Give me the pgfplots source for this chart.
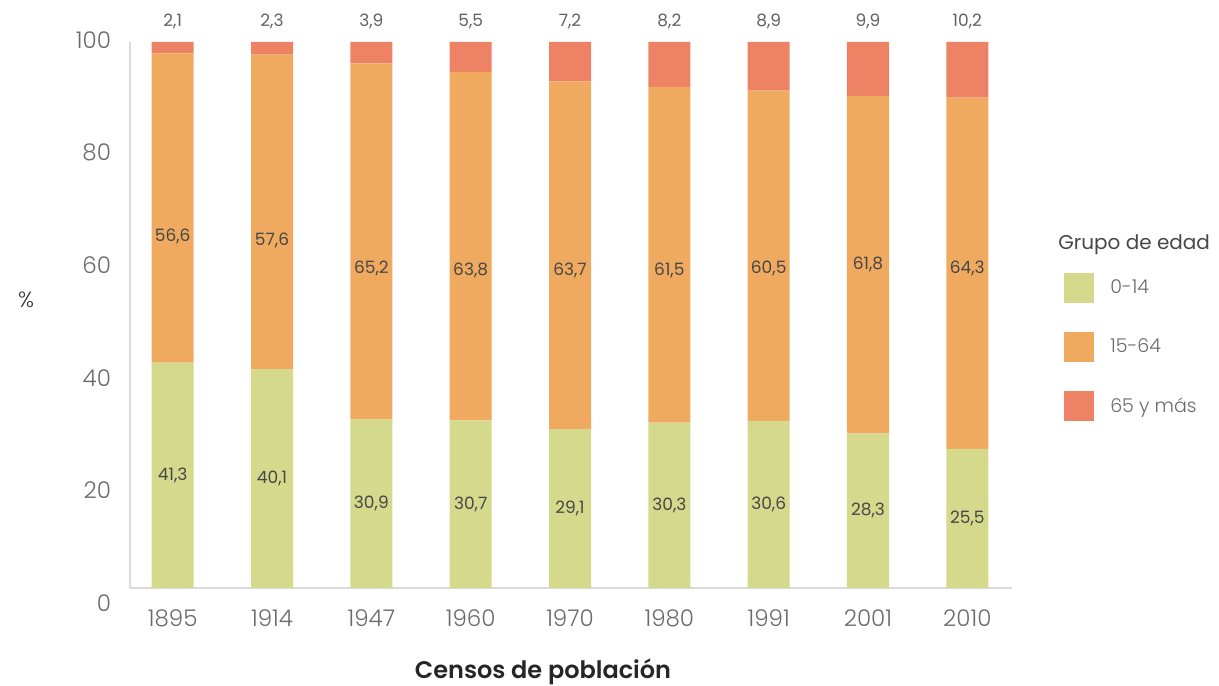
\documentclass[border=0pt]{standalone}
\usepackage{pgfplots}
\usepackage{pgfplotstable}
\pgfplotsset{compat=1.18}
\usepackage{fontspec}
\setmainfont{Poppins}[UprightFont=* Light, BoldFont=* SemiBold]
\newfontfamily\labfont{Poppins}

\definecolor{cgreen}{HTML}{D4D98B}
\definecolor{corange}{HTML}{F0AA60}
\definecolor{cred}{HTML}{EE8264}
\definecolor{ctick}{HTML}{6B6B6B}
\definecolor{cline}{HTML}{DADADA}

\pgfplotstableread{
x g o r gl ol rl oy
0 41.3 56.6 2.1 41,3 56,6 2,1 64.3
1 40.1 57.6 2.3 40,1 57,6 2,3 63.7
2 30.9 65.2 3.9 30,9 65,2 3,9 58.6
3 30.7 63.8 5.5 30,7 63,8 5,5 58.2
4 29.1 63.7 7.2 29,1 63,7 7,2 58.2
5 30.3 61.5 8.2 30,3 61,5 8,2 58.2
6 30.6 60.5 8.9 30,6 60,5 8,9 58.6
7 28.3 61.8 9.9 28,3 61,8 9,9 59.3
8 25.5 64.3 10.2 25,5 64,3 10,2 58.6
}\datatable

\pgfplotsset{
  common/.style={
    scale only axis,
    width=441pt, height=273pt,
    at={(0,0)}, anchor=south west,
    xmin=-0.43, xmax=8.45,
    ymin=0, ymax=100,
  },
}

\begin{document}
\begin{tikzpicture}
\path[use as bounding box] (-65pt,-48.5pt) rectangle (544.5pt,294pt);

% y tick labels, set on their own scale as in the reference
\begin{axis}[
  scale only axis,
  width=441pt, height=281.5pt,
  at={(0,-7.5pt)}, anchor=south west,
  xmin=0, xmax=1, ymin=0, ymax=100,
  axis line style={draw=none},
  major tick length=0pt,
  xtick=\empty,
  ytick={0,20,40,60,80,100},
  yticklabels={0,20,40,60,80,100},
  yticklabel style={font=\fontsize{11.5}{13}\selectfont, text=ctick, xshift=-6pt},
]
\end{axis}

\begin{axis}[
  common,
  ybar stacked,
  bar width=21pt,
  axis x line*=bottom,
  axis y line*=left,
  axis line style={-, draw=cline, line width=0.8pt},
  major tick length=0pt,
  xtick={0,...,8},
  xticklabels={1895,1914,1947,1960,1970,1980,1991,2001,2010},
  ytick=\empty,
  tick label style={font=\fontsize{11.5}{13}\selectfont, text=ctick},
  xticklabel style={yshift=-7.5pt},
  xlabel={\textbf{Censos de población}},
  xlabel style={at={(axis description cs:0.5,0)}, anchor=center, yshift=-42pt,
    xshift=-14pt, font=\fontsize{12}{14}\selectfont, text=black!85},
  ylabel={\%},
  ylabel style={at={(axis description cs:0,0.527)}, anchor=center, rotate=-90,
    xshift=-52pt, font=\fontsize{11}{13}\selectfont, text=black!80},
  legend style={at={(axis description cs:1.052,0.585)}, anchor=north west,
    draw=none, fill=none, row sep=14.6pt, column sep=6pt,
    font=\fontsize{9.5}{11}\selectfont, text=ctick},
  legend cell align=left,
  legend image code/.code={\fill[#1] (0pt,-7.5pt) rectangle (15pt,7.5pt);},
]
\addplot[fill=cgreen, draw=none] table[x=x, y=g] {\datatable};
\addplot[fill=corange, draw=none] table[x=x, y=o] {\datatable};
\addplot[fill=cred, draw=none] table[x=x, y=r] {\datatable};
\legend{0-14, 15-64, 65 y más}
\end{axis}

\begin{axis}[
  common,
  hide axis,
  clip=false,
  nodes near coords,
  point meta=explicit symbolic,
  every node near coord/.append style={font=\labfont\fontsize{8.5}{10}\selectfont, text=black!72},
]
\addplot[draw=none, mark=none, nodes near coords style={anchor=center}]
  table[x=x, y expr=\thisrow{g}/2, meta=gl] {\datatable};
\addplot[draw=none, mark=none, nodes near coords style={anchor=center}]
  table[x=x, y=oy, meta=ol] {\datatable};
\addplot[draw=none, mark=none, nodes near coords style={anchor=south, yshift=3pt, text=black!62}]
  table[x=x, y expr=\thisrow{g}+\thisrow{o}+\thisrow{r}, meta=rl] {\datatable};
\node[anchor=north west, inner sep=0pt, font=\labfont\fontsize{10}{12}\selectfont, text=black!72]
  at (axis description cs:1.052,0.648) {Grupo de edad};
\end{axis}
\end{tikzpicture}
\end{document}
